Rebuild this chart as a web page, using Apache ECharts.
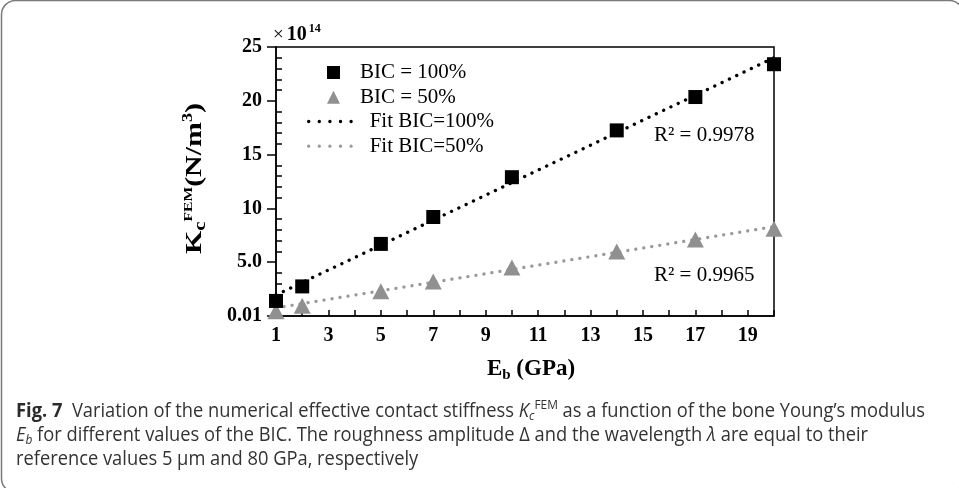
<!DOCTYPE html>
<html>
<head>
<meta charset="utf-8">
<script src="https://cdn.jsdelivr.net/npm/echarts@6/dist/echarts.min.js"></script>
<style>
html,body{margin:0;padding:0;background:#fff;}
#chart{width:959px;height:488px;}
</style>
</head>
<body>
<div id="chart"></div>
<script>
// ---- data ----
const eb = [1, 2, 5, 7, 10, 14, 17, 20];
const bic100 = [1.4, 2.75, 6.7, 9.2, 12.9, 17.25, 20.35, 23.4];
const bic50 = [0.45, 0.95, 2.3, 3.2, 4.5, 6.0, 7.1, 8.1];
const fitX = [1, 20];
const fit100 = [1.95, 24.0];
const fit50 = [0.75, 8.3];
const xTickLabels = ['1', '3', '5', '7', '9', '11', '13', '15', '17', '19'];
const yTickLabels = ['0.01', '5.0', '10', '15', '20', '25'];
const seriesNames = ['BIC = 100%', 'BIC = 50%', 'Fit BIC=100%', 'Fit BIC=50%'];
const r2Labels = ['R² = 0.9978', 'R² = 0.9965'];

const SERIF = "'Liberation Serif', 'Times New Roman', serif";
const SANS = "'Open Sans', 'Noto Sans', sans-serif";
const GRAY_MARK = '#909090';
const GRAY_DOT = '#9a9a9a';

function pairs(xs, ys) { return xs.map((x, i) => [x, ys[i]]); }

// caption width fitting
const cv = document.createElement('canvas').getContext('2d');
function w(font, t) { cv.font = font; return cv.measureText(t).width; }
const cap1a = 'Fig. 7';
const cap1b = '  Variation of the numerical effective contact stiffness ';
const cap1c = ' as a function of the bone Young’s modulus';
const line1W = w("bold 20px 'Open Sans'", cap1a) + w("20px 'Open Sans'", cap1b) +
  w("italic 20px 'Open Sans'", 'K') + w("italic 13px 'Open Sans'", 'c') +
  w("13px 'Open Sans'", 'FEM') + w("20px 'Open Sans'", cap1c);
const capScale = 909 / line1W;

const chart = echarts.init(document.getElementById('chart'), null, { renderer: 'canvas' });

const capRich = {
  fb: { fontFamily: SANS, fontWeight: 'bold', fontSize: 20, lineHeight: 24, fill: '#2b2b2b', color: '#2b2b2b' },
  n: { fontFamily: SANS, fontSize: 20, lineHeight: 24, fill: '#333', color: '#333' },
  it: { fontFamily: SANS, fontStyle: 'italic', fontSize: 20, lineHeight: 24, fill: '#333', color: '#333' },
  sub: { fontFamily: SANS, fontStyle: 'italic', fontSize: 13, lineHeight: 9, verticalAlign: 'bottom', fill: '#333', color: '#333' },
  sup: { fontFamily: SANS, fontSize: 13, lineHeight: 13, verticalAlign: 'top', fill: '#333', color: '#333' }
};

const legendText = function (pad) {
  return {
    fontFamily: SERIF, fontSize: 21, color: '#000', lineHeight: 20,
    rich: { p: { fontFamily: SERIF, fontSize: 21, color: '#000', lineHeight: 20, padding: [0, 0, 0, pad] } }
  };
};

const option = {
  backgroundColor: '#fff',
  animation: false,
  textStyle: { fontFamily: SERIF },
  grid: { left: 276, top: 47, right: 185, bottom: 172, show: true, borderColor: '#000', borderWidth: 1.5, backgroundColor: 'transparent' },
  legend: [{
    orient: 'vertical', left: 322, top: 57,
    itemWidth: 13, itemHeight: 13, itemGap: 3.7,
    selectedMode: false, symbolKeepAspect: true,
    data: [seriesNames[0], seriesNames[1]],
    formatter: function (name) { return '{p|' + name + '}'; },
    textStyle: legendText(15)
  }, {
    orient: 'vertical', left: 302, top: 106,
    itemWidth: 53, itemHeight: 13, itemGap: 3.7,
    selectedMode: false,
    data: [
      { name: seriesNames[2], itemStyle: { opacity: 0 }, lineStyle: { color: '#000', width: 3.3, type: [0.1, 10.5], cap: 'round' } },
      { name: seriesNames[3], itemStyle: { opacity: 0 }, lineStyle: { color: GRAY_DOT, width: 3.3, type: [0.1, 10.5], cap: 'round' } }
    ],
    formatter: function (name) { return '{p|' + name + '}'; },
    textStyle: legendText(3)
  }],
  xAxis: {
    type: 'value', min: 1, max: 20, interval: 1,
    axisLine: { onZero: false, lineStyle: { color: '#000', width: 1.5 } },
    axisTick: { show: true, inside: true, length: 6, lineStyle: { color: '#000', width: 1.5 } },
    splitLine: { show: false },
    axisLabel: {
      margin: 10, color: '#000', fontFamily: SERIF, fontWeight: 'bold', fontSize: 20, hideOverlap: false,
      showMinLabel: true, showMaxLabel: true,
      formatter: function (v) { return xTickLabels.indexOf(String(v)) >= 0 ? String(v) : ''; }
    }
  },
  yAxis: [{
    type: 'value', min: 0, max: 25, interval: 5, position: 'left',
    axisLine: { show: true, onZero: false, lineStyle: { color: '#000', width: 1.5 } },
    axisTick: { show: true, inside: false, length: 9, lineStyle: { color: '#000', width: 1.5 } },
    splitLine: { show: false },
    axisLabel: {
      margin: 14, color: '#000', fontFamily: SERIF, fontWeight: 'bold', fontSize: 20, hideOverlap: false,
      showMinLabel: true, showMaxLabel: true,
      formatter: function (v) { return yTickLabels[Math.round(v / 5)]; }
    }
  }, {
    type: 'value', min: 0, max: 25, interval: 5, position: 'right', offset: -498,
    axisLine: { show: false },
    axisTick: { show: false, inside: false },
    axisLabel: { show: false },
    splitLine: { show: false },
    minorTick: { show: true, splitNumber: 5, length: 6, lineStyle: { color: '#000', width: 1.5 } }
  }],
  series: [
    {
      name: seriesNames[2], type: 'line', data: pairs(fitX, fit100), symbol: 'none', z: 2,
      lineStyle: { color: '#000', width: 3.3, type: [0.1, 8], cap: 'round' },
      itemStyle: { color: '#000' }
    },
    {
      name: seriesNames[3], type: 'line', data: pairs(fitX, fit50), symbol: 'none', z: 2,
      lineStyle: { color: GRAY_DOT, width: 3.3, type: [0.1, 8], cap: 'round' },
      itemStyle: { color: GRAY_DOT }
    },
    {
      name: seriesNames[0], type: 'scatter', data: pairs(eb, bic100), symbol: 'rect', symbolSize: 14, z: 4,
      itemStyle: { color: '#000', opacity: 1 }
    },
    {
      name: seriesNames[1], type: 'scatter', data: pairs(eb, bic50), symbol: 'triangle', symbolSize: [17, 16], z: 3,
      itemStyle: { color: GRAY_MARK, opacity: 1 }
    }
  ],
  graphic: [
    { type: 'rect', shape: { x: 1.5, y: 0.5, width: 962, height: 492, r: 14 }, style: { fill: 'none', stroke: '#7a7a7a', lineWidth: 1.5 }, z: 0, silent: true },
    // ×10^14
    { type: 'text', x: 273, y: 35, style: { text: '{x|×}{t|10}{e|14}', align: 'left', verticalAlign: 'middle', textAlign: 'left', textVerticalAlign: 'middle',
      rich: {
        x: { fontFamily: SERIF, fontSize: 19, lineHeight: 24, fill: '#000' },
        t: { fontFamily: SERIF, fontWeight: 'bold', fontSize: 20, lineHeight: 24, fill: '#000', padding: [0, 0, 0, 3] },
        e: { fontFamily: SERIF, fontWeight: 'bold', fontSize: 12, lineHeight: 12, verticalAlign: 'top', fill: '#000', padding: [0, 0, 0, 2] }
      } } },
    // R² annotations
    { type: 'text', x: 654, y: 135, style: { text: r2Labels[0], fontFamily: SERIF, fontSize: 21, fill: '#000', align: 'left', verticalAlign: 'middle', textAlign: 'left', textVerticalAlign: 'middle' } },
    { type: 'text', x: 654, y: 275, style: { text: r2Labels[1], fontFamily: SERIF, fontSize: 21, fill: '#000', align: 'left', verticalAlign: 'middle', textAlign: 'left', textVerticalAlign: 'middle' } },
    // y axis title
    { type: 'text', x: 195, y: 178.5, rotation: Math.PI / 2, scaleX: 1.3,
      style: { text: '{k|K}{c|c}{f|FEM}{u|(N/m}{s|3}{u|)}', align: 'center', verticalAlign: 'middle', textAlign: 'center', textVerticalAlign: 'middle',
      rich: {
        k: { fontFamily: SERIF, fontWeight: 'bold', fontSize: 23, lineHeight: 28, fill: '#000' },
        c: { fontFamily: SERIF, fontWeight: 'bold', fontSize: 16, lineHeight: 12, verticalAlign: 'bottom', fill: '#000' },
        f: { fontFamily: SERIF, fontWeight: 'bold', fontSize: 12, lineHeight: 12, verticalAlign: 'top', fill: '#000', padding: [2, 0, 0, 0] },
        u: { fontFamily: SERIF, fontWeight: 'bold', fontSize: 23, lineHeight: 28, fill: '#000' },
        s: { fontFamily: SERIF, fontWeight: 'bold', fontSize: 14, lineHeight: 14, verticalAlign: 'top', fill: '#000' }
      } } },
    // x axis title
    { type: 'text', x: 531, y: 369,
      style: { text: '{e|E}{b|b}{e| (GPa)}', align: 'center', verticalAlign: 'middle', textAlign: 'center', textVerticalAlign: 'middle',
      rich: {
        e: { fontFamily: SERIF, fontWeight: 'bold', fontSize: 23, lineHeight: 28, fill: '#000' },
        b: { fontFamily: SERIF, fontWeight: 'bold', fontSize: 15, lineHeight: 11, verticalAlign: 'bottom', fill: '#000' }
      } } },
    // caption
    { type: 'text', x: 16, y: 399, scaleX: capScale,
      style: {
        text: '{fb|' + cap1a + '}{n|' + cap1b + '}{it|K}{sub|c}{sup|FEM}{n|' + cap1c + '}\n' +
              '{it|E}{sub|b}{n| for different values of the BIC. The roughness amplitude Δ and the wavelength }{it|λ}{n| are equal to their}\n' +
              '{n|reference values 5 μm and 80 GPa, respectively}',
        align: 'left', verticalAlign: 'top', textAlign: 'left', textVerticalAlign: 'top',
        rich: capRich
      } }
  ]
};
chart.setOption(option);
</script>
</body>
</html>
